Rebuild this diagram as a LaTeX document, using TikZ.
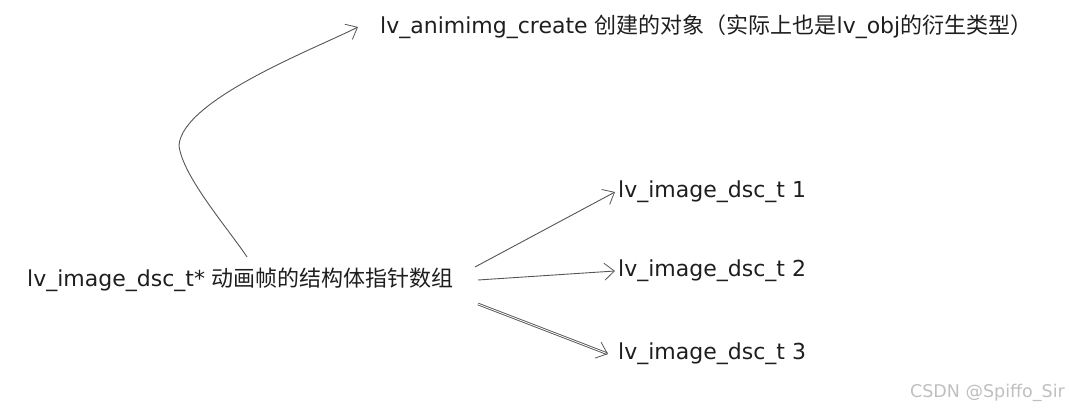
\documentclass[tikz,border=0pt]{standalone}
\usepackage{fontspec}
\setmainfont{DejaVu Sans}
\newfontfamily\cjk{Noto Sans CJK SC}
\usetikzlibrary{arrows.meta}
\definecolor{ink}{HTML}{1E1E1E}

\begin{document}
\begin{tikzpicture}[x=1pt, y=-1pt,
    lbl/.style={anchor=west, inner sep=0pt, text=ink, font=\fontsize{22}{26}\selectfont},
    link/.style={draw=ink!75, line width=0.9pt, -{Straight Barb[length=10pt, width=17pt, line width=0.8pt]}}]
    \useasboundingbox (0,0) rectangle (1069,411);

    \node[lbl] (top) at (380,27) {lv\_animimg\_create {\cjk 创建的对象（实际上也是}lv\_obj{\cjk 的衍生类型）}};
    \node[lbl] (main) at (27,280) {lv\_image\_dsc\_t* {\cjk 动画帧的结构体指针数组}};
    \node[lbl] (dsc1) at (618,192) {lv\_image\_dsc\_t 1};
    \node[lbl] (dsc2) at (618,271) {lv\_image\_dsc\_t 2};
    \node[lbl] (dsc3) at (618,354) {lv\_image\_dsc\_t 3};
    \node[anchor=east, inner sep=0pt, text=black!25, font=\fontsize{17.5}{20}\selectfont] (mark) at (1065,393) {CSDN @Spiffo\_Sir};

    \coordinate (start) at (247,257);
    \coordinate (bend) at (179,145);
    \draw[link] (start) to[out=123, in=275, looseness=0.6] (bend) to[out=85, in=207, looseness=0.55] ([xshift=-22pt]top.west);

    \draw[link] (475,267) -- ([xshift=-3pt]dsc1.west);
    \draw[link] (478,280) -- ([xshift=-3pt]dsc2.west);
    \draw[link, double, double distance=0.8pt] (478,304) -- ([xshift=-10pt]dsc3.west);
\end{tikzpicture}
\end{document}
